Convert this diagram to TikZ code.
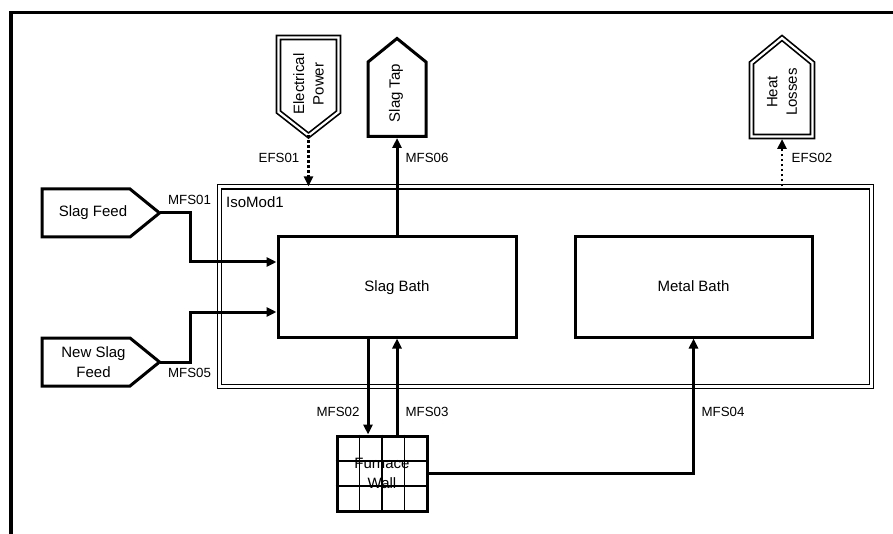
\documentclass[tikz,border=0pt]{standalone}
\usepackage{fontspec}
\setmainfont{Liberation Sans}
\usetikzlibrary{arrows.meta,calc}
\tikzset{
  txt/.style={font=\fontsize{15}{19.5}\selectfont, align=center, inner sep=1pt},
  lbl/.style={font=\fontsize{13.3}{15}\selectfont, inner sep=1pt},
  frame/.style={line width=3.8pt},
  bath/.style={txt, draw, line width=3pt, minimum width=238pt, minimum height=100pt,
               text height=11pt, text depth=3pt},
  wallbox/.style={txt, draw, line width=3pt, minimum width=90pt, minimum height=75pt},
  cell/.style={line width=1.6pt},
  isobox/.style={draw, double, line width=1.2pt, double distance=3pt},
  port/.style={line width=3pt, line join=miter},
  eport/.style={double, line width=1.7pt, double distance=2.2pt, line join=miter},
  flow/.style={-{Triangle[length=10pt,width=9pt]}, line width=3pt},
  eflow/.style={-{Triangle[length=10pt,width=9pt]}, line width=2.7pt,
                dash pattern=on 2.4pt off 2.6pt},
}
\begin{document}
\begin{tikzpicture}[x=1pt, y=-1pt]
  \clip (0,0) rectangle (893,534);
  % page frame, cut by the page edge
  \draw[frame] (11,560) -- (11,12.5) -- (920,12.5);

  % process boundary
  \node[isobox, minimum width=652pt, minimum height=199.5pt] (iso) at (545.5,286.75) {};
  \node[txt, anchor=west] (isoname) at (225,202) {IsoMod1};

  \node[bath] (slag) at (397,287) {Slag Bath};
  \node[bath, minimum width=237pt] (metal) at (693.5,287) {Metal Bath};

  \node[wallbox] (wall) at (382,473.5) {Furnace\\Wall};
  \foreach \i in {-1,0,1}
    \draw[cell] ([xshift=\i*22.5pt]wall.north) -- ([xshift=\i*22.5pt]wall.south);
  \foreach \j in {-0.5,0.5}
    \draw[cell] ([yshift=\j*25pt]wall.west) -- ([yshift=\j*25pt]wall.east);

  % feed ports
  \draw[port] (42,189) -- (130,189) -- (159.5,213) -- (130,237) -- (42,237) -- cycle;
  \node[txt] (feed) at (93,213) {Slag Feed};
  \coordinate (feedout) at (159.5,213);
  \draw[port] (42,338) -- (130,338) -- (159.5,362) -- (130,386) -- (42,386) -- cycle;
  \node[txt] (newfeed) at (93.5,362) {New Slag\\Feed};
  \coordinate (newfeedout) at (159.5,362);

  % top ports
  \draw[eport] (278.5,37.5) -- (338.5,37.5) -- (338.5,112) -- (308.5,135.5) -- (278.5,112) -- cycle;
  \node[txt, rotate=90] (power) at (308.5,84) {Electrical\\Power};
  \coordinate (powerout) at (308.5,135.5);
  \draw[port] (368,136.5) -- (368,62) -- (397,38.5) -- (426,62) -- (426,136.5) -- cycle;
  \node[txt, rotate=90] (tap) at (396,93) {Slag Tap};
  \coordinate (tapin) at (397,138);
  \draw[eport] (751.5,136.5) -- (751.5,63) -- (782,38) -- (812.5,63) -- (812.5,136.5) -- cycle;
  \node[txt, rotate=90] (heat) at (782,92) {Heat\\Losses};
  \coordinate (heatin) at (782,139);

  % streams
  \draw[flow] (feedout) -- ++(31,0) |- ([yshift=25pt]slag.west);
  \draw[flow] (newfeedout) -- ++(31,0) |- ([yshift=-25pt]slag.west);
  \draw[eflow] (powerout) -- (powerout |- iso.north);
  \draw[flow] (slag.north) -- (tapin);
  \draw[eflow] (heatin |- iso.north) -- (heatin);
  \draw[flow] ([xshift=-29pt]slag.south) -- ([xshift=-29pt]slag.south |- wall.north);
  \draw[flow] (slag.south |- wall.north) -- (slag.south);
  \draw[flow] (wall.east) -| (metal.south);

  \node[lbl] (mfs01) at (189.5,200) {MFS01};
  \node[lbl] (mfs05) at (189.5,373) {MFS05};
  \node[lbl] (efs01) at (279,158) {EFS01};
  \node[lbl] (mfs06) at (427,158) {MFS06};
  \node[lbl] (efs02) at (812,158) {EFS02};
  \node[lbl] (mfs02) at (338,412) {MFS02};
  \node[lbl] (mfs03) at (427,412) {MFS03};
  \node[lbl] (mfs04) at (723,412) {MFS04};
\end{tikzpicture}
\end{document}
